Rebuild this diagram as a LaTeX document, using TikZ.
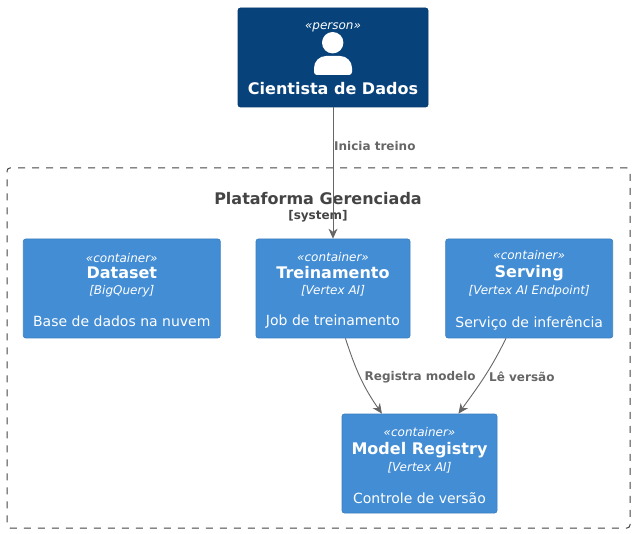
\documentclass[tikz,border=0pt]{standalone}
\usepackage{fontspec}
\setmainfont{DejaVu Sans}
\usetikzlibrary{arrows.meta,positioning}
\definecolor{personfill}{HTML}{08427B}
\definecolor{personline}{HTML}{073B6F}
\definecolor{contfill}{HTML}{438DD5}
\definecolor{contline}{HTML}{3C7FC0}
\definecolor{reltext}{HTML}{666666}
\definecolor{systext}{HTML}{444444}
\newcommand{\conttext}[3]{\rule{0pt}{13pt}{\fontsize{12}{14}\selectfont\itshape «container»}\\[4pt]
  {\fontsize{16}{18}\selectfont\bfseries #1}\\[4pt]
  {\fontsize{12}{14}\selectfont\itshape [#2]}\\[18pt]
  {\fontsize{14}{16}\selectfont #3}}
\begin{document}
\begin{tikzpicture}[
    x=1pt, y=1pt,
    container/.style={rectangle, draw=contline, fill=contfill, rounded corners=2.5pt, text=white, align=center, minimum height=99pt, inner sep=0pt, line width=0.7pt},
    person/.style={rectangle, draw=personline, fill=personfill, rounded corners=2.5pt, text=white, align=center, minimum width=190pt, minimum height=99pt, inner sep=0pt, line width=0.7pt},
    boundary/.style={rectangle, draw=systext, rounded corners=3pt, dash pattern=on 7pt off 7pt, line width=1pt, minimum width=623pt, minimum height=360pt},
    reltitle/.style={text=reltext, font=\fontsize{12}{14}\selectfont\bfseries, inner sep=0pt},
    arrow/.style={draw=reltext, line width=0.9pt, -{Stealth[length=10pt,width=9pt]}}
]
\useasboundingbox (0,0) rectangle (634,533);
% System boundary
\node[boundary] (platform) at (318.5,185) {};
\node[text=systext, align=center, inner sep=0pt, anchor=north] (platform_title) at (318,341) {{\fontsize{16}{18}\selectfont\bfseries Plataforma Gerenciada}\\[3pt]{\fontsize{12}{14}\selectfont\bfseries [system]}};
% Person
\node[person] (scientist) at (333,475.5) {\rule{0pt}{9pt}{\fontsize{12}{14}\selectfont\itshape «person»}\\[50pt]{\fontsize{16}{18}\selectfont\bfseries Cientista de Dados}};
\fill[white] (332.7,490.3) circle (10.7pt);
\fill[white] (317,458) arc (270:180:3) -- (314,465) arc (180:90:12) -- (340,477) arc (90:0:12) -- (352,461) arc (0:-90:3) -- cycle;
% Containers
\node[container, minimum width=154pt] (training) at (333,244.5) {\conttext{Treinamento}{Vertex AI}{Job de treinamento}};
\node[container, minimum width=197pt, left=35pt of training] (dataset) {\conttext{Dataset}{BigQuery}{Base de dados na nuvem}};
\node[container, minimum width=167pt, right=35pt of training] (serving) {\conttext{Serving}{Vertex AI Endpoint}{Serviço de inferência}};
\node[container, minimum width=155pt] (registry) at (419.5,69.5) {\conttext{Model Registry}{Vertex AI}{Controle de versão}};
% Arrows
\draw[arrow] (scientist) -- (training);
\draw[arrow] (training.-76.4) to[out=-72, in=125] (registry.127.9);
\draw[arrow] (serving.-115.4) to[out=-116, in=54] (registry.52.1);
% Labels
\node[reltitle, anchor=west] (start_label) at (334,387) {Inicia treino};
\node[reltitle, anchor=west] (register_label) at (364.5,156) {Registra modelo};
\node[reltitle, anchor=west] (read_label) at (489,156) {Lê versão};
\end{tikzpicture}
\end{document}
